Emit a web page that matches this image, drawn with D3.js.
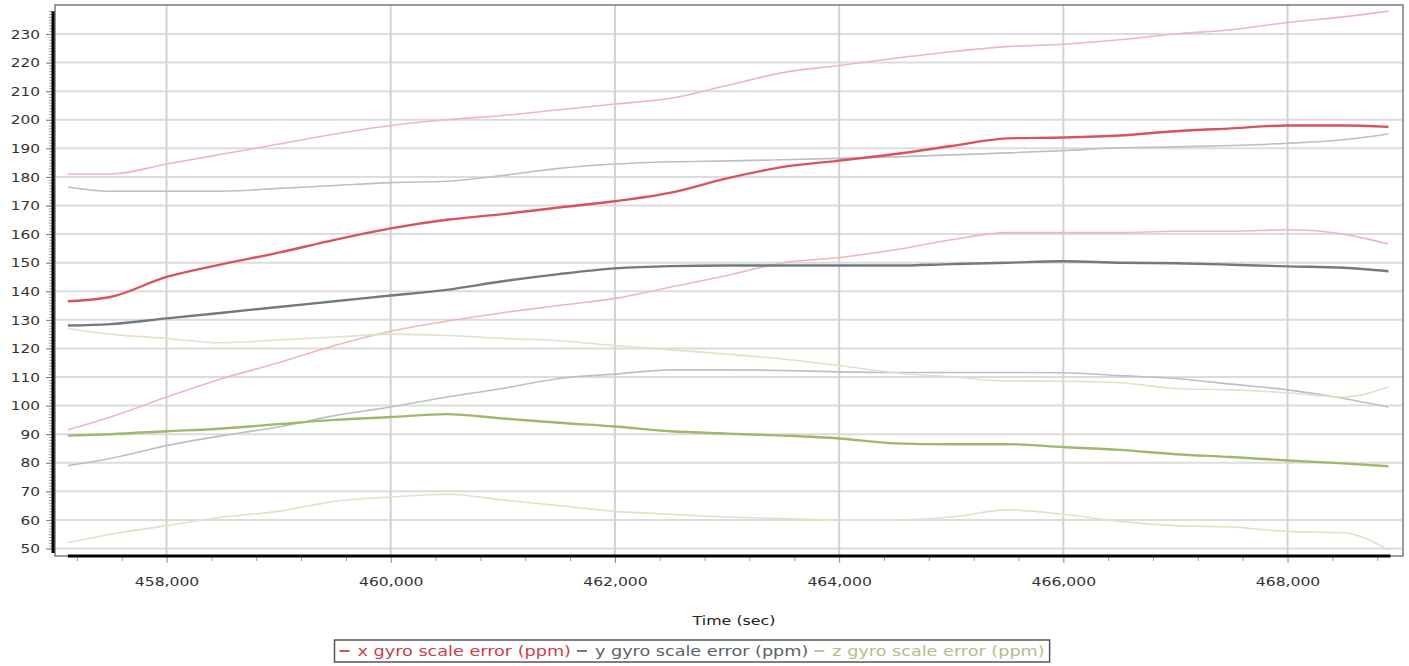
<!DOCTYPE html>
<html><head><meta charset="utf-8">
<script src="https://cdn.jsdelivr.net/npm/d3@7"></script>
<style>
body{margin:0;background:#fff;}
text{font-family:"DejaVu Sans",Verdana,sans-serif;}
</style>
</head><body>
<svg id="chart" width="1409" height="666"></svg>
<script>
// ---- data ----
const times = [457120, 457500, 458000, 458500, 459000, 459500, 460000, 460500, 461000, 461500,
  462000, 462500, 463000, 463500, 464000, 464500, 465000, 465500, 466000, 466500,
  467000, 467500, 468000, 468500, 468900];

const xUpper = [181, 181, 184.5, 188, 191.5, 195, 198, 200, 201.5, 203.5, 205.5, 207.5, 212, 216.5, 219, 221.5, 223.8, 225.6, 226.4, 228, 230, 231.5, 234, 236, 238];
const xMain  = [136.5, 138, 145, 149.5, 153.5, 158, 162, 165, 167, 169.3, 171.5, 174.5, 179.5, 183.5, 185.7, 188, 190.8, 193.5, 193.8, 194.5, 196, 197, 198, 198, 197.5];
const xLower = [91.5, 96, 103, 109.5, 115, 121, 126, 129.5, 132.5, 135, 137.5, 141.5, 145.5, 150, 151.8, 154.5, 158, 160.5, 160.5, 160.5, 161, 161, 161.5, 160, 156.5];

const yUpper = [176.5, 175, 175, 175, 176, 177, 178, 178.5, 180.5, 183, 184.5, 185.3, 185.6, 186, 186.5, 187, 187.7, 188.4, 189.2, 190.2, 190.5, 191, 191.8, 193, 195];
const yMain  = [128, 128.5, 130.5, 132.5, 134.5, 136.5, 138.5, 140.5, 143.5, 146, 148, 148.8, 149, 149, 149, 149, 149.5, 150, 150.5, 150, 149.8, 149.3, 148.7, 148.2, 147];
const yLower = [79, 81.5, 86, 89.5, 92.5, 96.5, 99.5, 103, 106, 109.5, 111, 112.5, 112.5, 112.3, 111.8, 111.6, 111.6, 111.6, 111.5, 110.5, 109.5, 107.5, 105.5, 102.5, 99.5];

const zUpper = [127, 125, 123.5, 122, 123, 124, 125, 124.5, 123.5, 122.7, 121, 119.5, 118, 116.3, 114, 111.5, 110, 108.6, 108.5, 108, 106, 105.5, 104.5, 103, 106.5];
const zMain  = [89.5, 90, 91, 92, 93.5, 95, 96, 97, 95.5, 94, 92.7, 91, 90.2, 89.5, 88.5, 86.8, 86.5, 86.5, 85.5, 84.5, 83, 82, 80.8, 79.8, 78.8];
const zLower = [52, 55, 58, 61, 63, 66.5, 68, 69, 67, 65, 63, 62, 61, 60.5, 60, 60, 61, 63.5, 62, 59.5, 58, 57.5, 56, 55.5, 49.5];

const yTickValues = d3.range(50, 231, 10);
const xTickValues = d3.range(458000, 468001, 2000);
const xMinorValues = d3.range(457200, 469000, 400);
const legendLabels = ["x gyro scale error (ppm)", "y gyro scale error (ppm)", "z gyro scale error (ppm)"];
const xAxisTitle = "Time (sec)";

// ---- drawing ----
const svg = d3.select("#chart");
svg.append("rect").attr("width",1409).attr("height",666).attr("fill","#fff");

const box = {l:55, r:1403, t:5, b:556};
const x = d3.scaleLinear().domain([457005, 469030]).range([box.l, box.r]);
const y = d3.scaleLinear().domain([47.38, 240.15]).range([box.b, box.t]);

// gridlines
svg.append("g").selectAll("line").data(yTickValues).join("line")
  .attr("x1", box.l).attr("x2", box.r)
  .attr("y1", d=>y(d)).attr("y2", d=>y(d))
  .attr("stroke", "#dcdcdc").attr("stroke-width", 2);
svg.append("g").selectAll("line").data(xTickValues).join("line")
  .attr("x1", d=>x(d)).attr("x2", d=>x(d))
  .attr("y1", box.t).attr("y2", box.b)
  .attr("stroke", "#d2d2d2").attr("stroke-width", 2);

// plot frame
svg.append("rect").attr("x", box.l).attr("y", box.t)
  .attr("width", box.r-box.l).attr("height", box.b-box.t)
  .attr("fill","none").attr("stroke","#7a7a7a").attr("stroke-width",1.5);

// series
const series = [
  {v:xUpper, c:"#f2b6ba", w:1.6},
  {v:xLower, c:"#f2b6ba", w:1.6},
  {v:yUpper, c:"#b8c0c8", w:1.6},
  {v:yLower, c:"#b8c0c8", w:1.6},
  {v:zUpper, c:"#dfe3c6", w:1.6},
  {v:zLower, c:"#dfe3c6", w:1.6},
  {v:zMain,  c:"#9cb96c", w:2.4},
  {v:yMain,  c:"#6e7b84", w:2.4},
  {v:xMain,  c:"#d9535e", w:2.4}
];
const line = d3.line().x((d,i)=>x(times[i])).y(d=>y(d)).curve(d3.curveMonotoneX);
svg.append("g").selectAll("path").data(series).join("path")
  .attr("d", s=>line(s.v)).attr("fill","none")
  .attr("stroke", s=>s.c).attr("stroke-width", s=>s.w)
  .attr("stroke-linejoin","round");

const allVals = [].concat(xUpper,xMain,xLower,yUpper,yMain,yLower,zUpper,zMain,zLower);
const vMin = d3.min(allVals), vMax = d3.max(allVals);

// Y axis: minor ticks
const yMinor = svg.append("g").attr("transform","translate(52,0)")
  .call(d3.axisLeft(y).tickValues(d3.range(Math.ceil(vMin), Math.floor(vMax)+1, 1)).tickSize(3).tickFormat(""));
yMinor.select(".domain").remove();
yMinor.selectAll("line").attr("stroke","#9a9a9a");
// Y axis: major
const yAx = svg.append("g").attr("transform","translate(51,0)")
  .call(d3.axisLeft(y).tickValues(yTickValues).tickSize(5).tickFormat(d3.format("d")));
yAx.select(".domain").remove();
yAx.selectAll("line").attr("stroke","#777");
yAx.selectAll("text").attr("font-size",13).attr("fill","#333")
  .attr("transform","scale(1.18,1)").attr("x", -11/1.18);
svg.append("line").attr("x1",53).attr("x2",53)
  .attr("y1", y(vMax)).attr("y2", y(vMin)+3)
  .attr("stroke","#000").attr("stroke-width",3);

// X axis
const xMinorAx = svg.append("g").attr("transform","translate(0,557)")
  .call(d3.axisBottom(x).tickValues(xMinorValues.filter(v=>v%2000!==0)).tickSize(4).tickFormat(""));
xMinorAx.select(".domain").remove();
xMinorAx.selectAll("line").attr("stroke","#9a9a9a");
const xAx = svg.append("g").attr("transform","translate(0,557)")
  .call(d3.axisBottom(x).tickValues(xTickValues).tickSize(6).tickPadding(14).tickFormat(d3.format(",")));
xAx.select(".domain").remove();
xAx.selectAll("line").attr("stroke","#888");
xAx.selectAll("text").attr("font-size",13).attr("fill","#333")
  .attr("transform","scale(1.2,1)");
svg.append("line").attr("y1",556).attr("y2",556)
  .attr("x1", x(times[0])).attr("x2", x(times[times.length-1])+2)
  .attr("stroke","#000").attr("stroke-width",3);

svg.append("g").attr("transform","translate(734,625) scale(1.22,1)")
  .append("text").attr("text-anchor","middle").attr("font-size",13).attr("fill","#222")
  .text(xAxisTitle);

// Legend
const legendColors = ["#cc3e4c","#58626a","#b2bd8a"];
const legendLine = ["#d9535e","#6e7b84","#b9c79a"];
const lg = svg.append("g");
const lx0 = 339.5, ly = 651, sx = 1.26;
let cx = lx0;
legendLabels.forEach((lab,i)=>{
  lg.append("line").attr("x1",cx).attr("x2",cx+10).attr("y1",ly).attr("y2",ly)
    .attr("stroke",legendLine[i]).attr("stroke-width",2);
  const tg = lg.append("g").attr("transform",`translate(${cx+18},${ly+5}) scale(${sx},1)`);
  const t = tg.append("text").attr("font-size",14).attr("fill",legendColors[i]).text(lab);
  const w = t.node().getComputedTextLength()*sx;
  cx = cx + 18 + w + 6;
});
lg.insert("rect",":first-child").attr("x",lx0-5).attr("y",640)
  .attr("width", cx - lx0 + 4).attr("height",22)
  .attr("fill","#fff").attr("stroke","#555").attr("stroke-width",1.5);
</script>
</body></html>
